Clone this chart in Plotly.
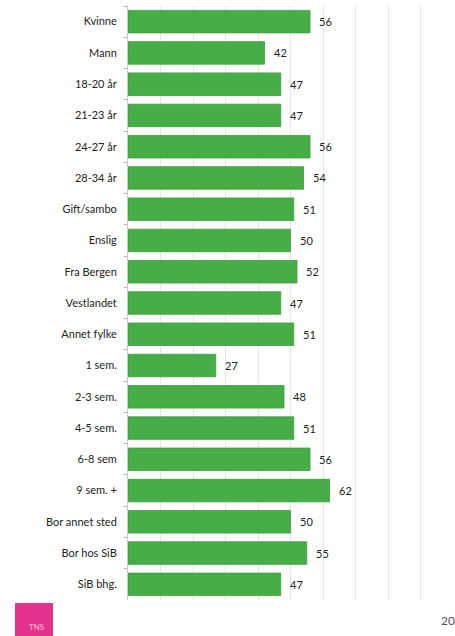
import plotly.graph_objects as go

categories = [
    "Kvinne", "Mann", "18-20 år", "21-23 år", "24-27 år", "28-34 år",
    "Gift/sambo", "Enslig", "Fra Bergen", "Vestlandet", "Annet fylke",
    "1 sem.", "2-3 sem.", "4-5 sem.", "6-8 sem", "9 sem. +",
    "Bor annet sted", "Bor hos SiB", "SiB bhg.",
]
values = [56, 42, 47, 47, 56, 54, 51, 50, 52, 47, 51, 27, 48, 51, 56, 62, 50, 55, 47]

FONT = "Lato"
PLOT_W, PLOT_H = 325, 594  # plot area in px (used for paper offsets)

fig = go.Figure(
    go.Bar(
        x=values,
        y=categories,
        orientation="h",
        marker=dict(color="#47AE47", line=dict(color="#3C9A3C", width=0.8)),
        width=0.72,
        hoverinfo="x+y",
    )
)

# value labels just right of each bar
value_labels = [
    dict(x=v, y=c, text=str(v), xref="x", yref="y", showarrow=False,
         xanchor="left", yanchor="middle", xshift=7,
         font=dict(family=FONT, size=11, color="#222222"))
    for c, v in zip(categories, values)
]

fig.update_layout(
    width=455,
    height=636,
    margin=dict(l=128, r=2, t=6, b=36),
    paper_bgcolor="white",
    plot_bgcolor="white",
    showlegend=False,
    xaxis=dict(
        range=[0, 100],
        dtick=10,
        showgrid=True,
        gridcolor="#E6E6E6",
        gridwidth=1,
        showticklabels=False,
        zeroline=False,
        fixedrange=True,
    ),
    yaxis=dict(
        autorange="reversed",
        tickson="boundaries",
        ticks="outside",
        ticklen=3,
        tickcolor="#D9A0A0",
        showline=True,
        linecolor="#CCCCCC",
        linewidth=1,
        tickfont=dict(family=FONT, size=11, color="#222222"),
        ticklabelstandoff=8,
    ),
    shapes=[
        dict(type="rect", xref="paper", yref="paper",
             x0=(15 - 128) / PLOT_W, x1=(53 - 128) / PLOT_W,
             y0=-(636 - 600) / PLOT_H - 0.01, y1=-(603 - 600) / PLOT_H,
             fillcolor="#E4338C", line=dict(width=0)),
    ],
    annotations=value_labels + [
        dict(text="TNS", xref="paper", yref="paper",
             x=(36 - 128) / PLOT_W, y=-(627 - 600) / PLOT_H, showarrow=False,
             font=dict(family=FONT, size=8, color="#FFC0DC"),
             xanchor="center", yanchor="middle"),
        dict(text="20", xref="paper", yref="paper",
             x=1.0, y=-(620 - 600) / PLOT_H, showarrow=False,
             font=dict(family=FONT, size=12, color="#555555"),
             xanchor="left", xshift=-14, yanchor="middle"),
    ],
)

fig.write_html("out.html")
